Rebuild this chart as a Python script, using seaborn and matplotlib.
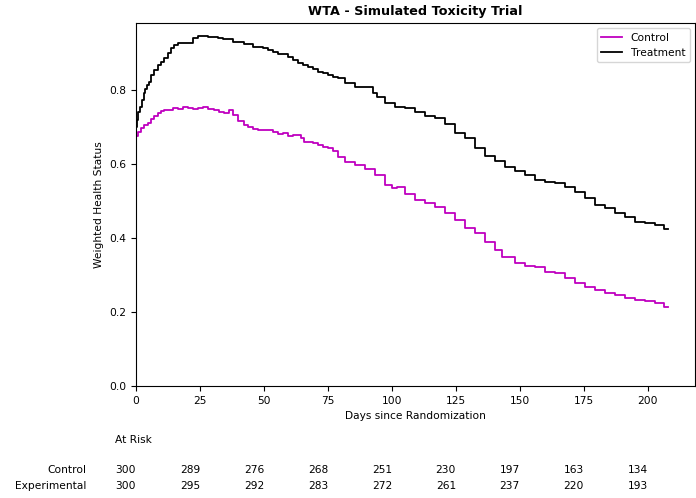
import numpy as np
import pandas as pd
import seaborn as sns
import matplotlib
matplotlib.use("Agg")
import matplotlib.pyplot as plt
import matplotlib.transforms as mtransforms

# values (day, weighted health status)
trt_days = [0, 0.6, 1.3, 2.0, 2.6, 3.3, 3.9, 4.6, 5.2, 6.5, 7.8, 9.1, 10.4, 11.7, 13.0, 14.3,
            15.6, 17.6, 19.5, 21.5, 23.4, 25.4, 27.3, 29, 31.3, 33, 35.2, 37, 39.0, 41, 43.0,
            44.5, 46.9, 48.4, 50.8, 52.3, 54.7, 56.3, 58.6, 60.2, 62.5, 64.1, 66.4, 68, 70.3,
            71.9, 74.2, 75.8, 78.1, 79.7, 83.6, 87.5, 91.4, 93.4, 95.3, 99.2, 103.1, 107,
            110.9, 114.8, 118.8, 122.7, 126.6, 130.5, 134.4, 138.3, 142.2, 146.1, 150, 153.9,
            157.8, 161.7, 165.6, 169.5, 173.4, 177.3, 181.3, 185.2, 189.1, 193, 196.9, 200.8,
            204.7, 207.8]
trt_vals = [0.70, 0.719, 0.741, 0.754, 0.773, 0.792, 0.803, 0.814, 0.822, 0.841, 0.854, 0.868,
            0.876, 0.886, 0.900, 0.914, 0.922, 0.927, 0.927, 0.927, 0.940, 0.946, 0.945, 0.943,
            0.943, 0.940, 0.938, 0.938, 0.930, 0.930, 0.924, 0.924, 0.916, 0.916, 0.914, 0.908,
            0.903, 0.897, 0.897, 0.889, 0.881, 0.873, 0.868, 0.862, 0.857, 0.849, 0.846, 0.841,
            0.835, 0.832, 0.819, 0.808, 0.808, 0.792, 0.781, 0.765, 0.754, 0.751, 0.741, 0.731,
            0.723, 0.708, 0.685, 0.671, 0.643, 0.621, 0.608, 0.593, 0.581, 0.569, 0.557, 0.551,
            0.549, 0.538, 0.524, 0.508, 0.489, 0.481, 0.468, 0.457, 0.443, 0.441, 0.435, 0.424]

ctl_days = [0, 1.3, 2.6, 3.9, 5.2, 6.5, 7.8, 9.1, 10.4, 11.7, 13.7, 15.6, 17.6, 19.5, 21.5,
            23.4, 25.4, 27.3, 29.3, 31.3, 33.2, 35.2, 37.1, 39.0, 41.0, 43.0, 44.9, 46.9, 48.4,
            50.8, 52.3, 54.7, 56.3, 58.6, 60.2, 62.5, 64.1, 65.1, 66.4, 68, 70.3, 71.9, 74.2,
            75.8, 78.1, 79.7, 83.6, 87.5, 91.4, 95.3, 99.2, 101.2, 103.1, 107, 110.9, 114.8,
            118.8, 122.7, 126.6, 130.5, 134.4, 138.3, 142.2, 144.1, 146.1, 150, 153.9, 157.8,
            161.7, 165.6, 169.5, 173.4, 177.3, 181.3, 185.2, 189.1, 193, 196.9, 200.8, 204.7,
            207.8]
ctl_vals = [0.676, 0.686, 0.697, 0.705, 0.711, 0.722, 0.730, 0.738, 0.743, 0.746, 0.746, 0.751,
            0.749, 0.754, 0.751, 0.749, 0.751, 0.754, 0.749, 0.746, 0.741, 0.738, 0.746, 0.732,
            0.716, 0.705, 0.700, 0.695, 0.692, 0.692, 0.692, 0.686, 0.681, 0.684, 0.676, 0.678,
            0.678, 0.670, 0.659, 0.659, 0.657, 0.651, 0.646, 0.643, 0.635, 0.618, 0.605, 0.596,
            0.587, 0.569, 0.543, 0.535, 0.538, 0.519, 0.502, 0.495, 0.485, 0.468, 0.449, 0.427,
            0.414, 0.389, 0.368, 0.349, 0.349, 0.332, 0.324, 0.322, 0.308, 0.305, 0.292, 0.278,
            0.268, 0.259, 0.251, 0.246, 0.238, 0.232, 0.230, 0.224, 0.214]

risk_days = [0, 25, 50, 75, 100, 125, 150, 175, 200]
risk_control = [300, 289, 276, 268, 251, 230, 197, 163, 134]
risk_experimental = [300, 295, 292, 283, 272, 261, 237, 220, 193]

df = pd.concat([
    pd.DataFrame({"day": ctl_days, "status": ctl_vals, "arm": "Control"}),
    pd.DataFrame({"day": trt_days, "status": trt_vals, "arm": "Treatment"}),
])

plt.rcParams["font.size"] = 7.7

fig = plt.figure(figsize=(6.96, 4.98), dpi=100)
ax = fig.add_axes([136/696, 1 - 386/498, (695 - 136)/696, (386 - 23)/498])

# steps-mid keeps each read value centred on the day it was read at
sns.lineplot(data=df, x="day", y="status", hue="arm", palette={"Control": "m", "Treatment": "k"},
             drawstyle="steps-mid", linewidth=1.3, estimator=None, ax=ax)

ax.set_xlim(0, 218.4)
ax.set_ylim(0, 0.981)
ax.set_xticks(risk_days)
ax.set_yticks([0.0, 0.2, 0.4, 0.6, 0.8])
ax.set_xlabel("Days since Randomization")
ax.set_ylabel("Weighted Health Status")
ax.set_title("WTA - Simulated Toxicity Trial", fontsize=9.2, fontweight="bold")
ax.legend(loc="upper right", title=None)

# at-risk table under the axis
trans = mtransforms.blended_transform_factory(ax.transData, ax.transAxes)
ax.text(-8.2, -0.149, "At Risk", transform=trans, ha="left", va="center")
ax.text(-19.5, -0.231, "Control", transform=trans, ha="right", va="center")
ax.text(-19.5, -0.275, "Experimental", transform=trans, ha="right", va="center")
for d, c, e in zip(risk_days, risk_control, risk_experimental):
    ax.text(d, -0.231, str(c), transform=trans, ha="right", va="center")
    ax.text(d, -0.275, str(e), transform=trans, ha="right", va="center")

fig.savefig("out.png", dpi=100)
